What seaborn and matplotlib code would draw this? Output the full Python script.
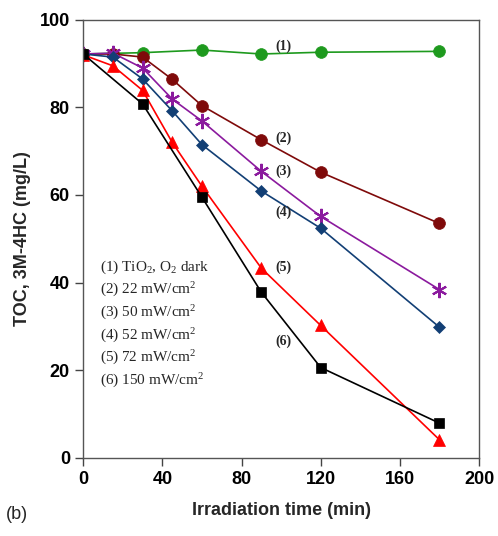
import matplotlib
matplotlib.use("Agg")
import matplotlib.pyplot as plt
import seaborn as sns
import pandas as pd

# TOC decay of 3M-4HC under different irradiation intensities
t1 = [0, 30, 60, 90, 120, 180]
toc1 = [92.2, 92.5, 93.1, 92.2, 92.6, 92.8]
t2 = [0, 15, 30, 45, 60, 90, 120, 180]
toc2 = [92.2, 92.2, 91.5, 86.4, 80.4, 72.6, 65.2, 53.5]
t3 = [0, 15, 30, 45, 60, 90, 120, 180]
toc3 = [92.2, 92.4, 89.0, 81.9, 76.9, 65.4, 55.1, 38.4]
t4 = [0, 15, 30, 45, 60, 90, 120, 180]
toc4 = [92.2, 91.5, 86.5, 79.2, 71.5, 60.9, 52.4, 29.8]
t5 = [0, 15, 30, 45, 60, 90, 120, 180]
toc5 = [92.0, 89.5, 83.9, 72.0, 62.0, 43.3, 30.2, 4.1]
t6 = [0, 30, 60, 90, 120, 180]
toc6 = [92.2, 80.8, 59.5, 37.8, 20.6, 7.9]

series_tags = ["(1)", "(2)", "(3)", "(4)", "(5)", "(6)"]
legend_lines = [r"(1) TiO$_2$, O$_2$ dark", r"(2) 22 mW/cm$^2$", r"(3) 50 mW/cm$^2$",
                r"(4) 52 mW/cm$^2$", r"(5) 72 mW/cm$^2$", r"(6) 150 mW/cm$^2$"]
x_ticks = [0, 40, 80, 120, 160, 200]
y_ticks = [0, 20, 40, 60, 80, 100]

sns.set_style("ticks")
plt.rcParams["font.family"] = ["Liberation Sans", "DejaVu Sans"]
plt.rcParams["mathtext.fontset"] = "custom"
plt.rcParams["mathtext.rm"] = "Liberation Serif"
plt.rcParams["mathtext.it"] = "Liberation Serif:italic"

fig = plt.figure(figsize=(4.98, 5.36), dpi=100)
ax = fig.add_axes([0.167, 0.146, 0.795, 0.817])

asterisk = (6, 2, 0)
styles = [
    (t1, toc1, "#1e9a1e", "o", 8.5),
    (t2, toc2, "#7f0a0a", "o", 8.5),
    (t3, toc3, "#8b1a9e", asterisk, 11),
    (t4, toc4, "#123f75", "D", 6.5),
    (t5, toc5, "#ff0000", "^", 8.5),
    (t6, toc6, "#000000", "s", 7.5),
]
for t, v, c, m, ms in styles:
    df = pd.DataFrame({"t": t, "toc": v})
    mew = 1.5 if m == asterisk else 0.5
    sns.lineplot(data=df, x="t", y="toc", ax=ax, color=c, marker=m,
                 markersize=ms, linewidth=1.2, markeredgecolor=c,
                 markeredgewidth=mew)

ax.set_xlim(0, 200)
ax.set_ylim(0, 100)
ax.set_xticks(x_ticks)
ax.set_yticks(y_ticks)
ax.tick_params(direction="out", length=6, width=1, colors="#444444",
               labelcolor="black", labelsize=13)
for lab in ax.get_xticklabels() + ax.get_yticklabels():
    lab.set_fontweight("bold")
for s in ax.spines.values():
    s.set_visible(True)
    s.set_color("#555555")
    s.set_linewidth(1.0)

ax.set_xlabel("Irradiation time (min)", fontsize=13, fontweight="bold", labelpad=10)
ax.set_ylabel("TOC, 3M-4HC (mg/L)", fontsize=13, fontweight="bold", labelpad=6)

# series tags next to the curves
tag_pos = [(97, 94.0), (97, 73.0), (97, 65.5), (97, 56.0), (97, 43.5), (97, 26.5)]
for tag, (tx, ty) in zip(series_tags, tag_pos):
    ax.text(tx, ty, tag, family="Liberation Serif", fontsize=10,
            fontweight="bold", ha="left", va="center")

# key listing the conditions
for k, line in enumerate(legend_lines):
    ax.text(8.5, 43.5 - k * 5.2, line, family="Liberation Serif",
            fontsize=11, ha="left", va="center")

fig.text(0.012, 0.025, "(b)", fontsize=13, ha="left", va="bottom")

fig.savefig("out.png", dpi=100)
